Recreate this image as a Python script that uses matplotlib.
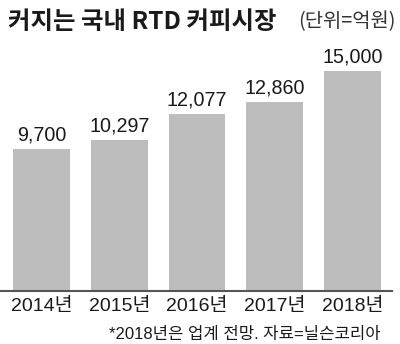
import matplotlib
matplotlib.use("Agg")
import matplotlib.pyplot as plt

# Données (unité : 억원)
annees = ["2014년", "2015년", "2016년", "2017년", "2018년"]
valeurs = [9700, 10297, 12077, 12860, 15000]
etiquettes = ["9,700", "10,297", "12,077", "12,860", "15,000"]

titre = "커지는 국내 RTD 커피시장"
unite = "(단위=억원)"
note = "*2018년은 업계 전망. 자료=닐슨코리아"

POLICE = ["Liberation Sans", "Noto Sans CJK KR", "DejaVu Sans"]
plt.rcParams["font.family"] = POLICE

fig = plt.figure(figsize=(4.0, 3.44), dpi=100)
ax = fig.add_axes([0.0, 53 / 344, 392 / 400, (291 - 60) / 344])

x = range(len(valeurs))
ax.bar(x, valeurs, width=0.73, color="#bdbdbd", zorder=2)
for i, v in enumerate(valeurs):
    ax.text(i, v + 300, etiquettes[i], ha="center", va="bottom",
            fontsize=14.2, color="#1a1a1a")

ax.set_xlim(-0.534, 4.508)
ax.set_ylim(0, 15750)
ax.set_yticks([])
ax.set_xticks(list(x))
ax.set_xticklabels(annees, fontsize=14, color="#1a1a1a")
ax.tick_params(axis="x", length=0, pad=5)
for cote in ["top", "right", "left"]:
    ax.spines[cote].set_visible(False)
ax.spines["bottom"].set_color("#555555")
ax.spines["bottom"].set_linewidth(1.5)

# Titre et note
fig.text(8 / 400, 1 - 10 / 344, titre, ha="left", va="top", fontsize=17.6,
         fontweight="bold", family=["Noto Sans CJK KR"], color="#1a1a1a")
fig.text(396 / 400, 1 - 11 / 344, unite, ha="right", va="top", fontsize=14.3,
         fontweight="light", family=["Noto Sans CJK KR"], color="#333333")
fig.text(381 / 400, 2 / 344, note, ha="right", va="bottom", fontsize=12,
         color="#1a1a1a")

fig.savefig("out.png", dpi=100)
